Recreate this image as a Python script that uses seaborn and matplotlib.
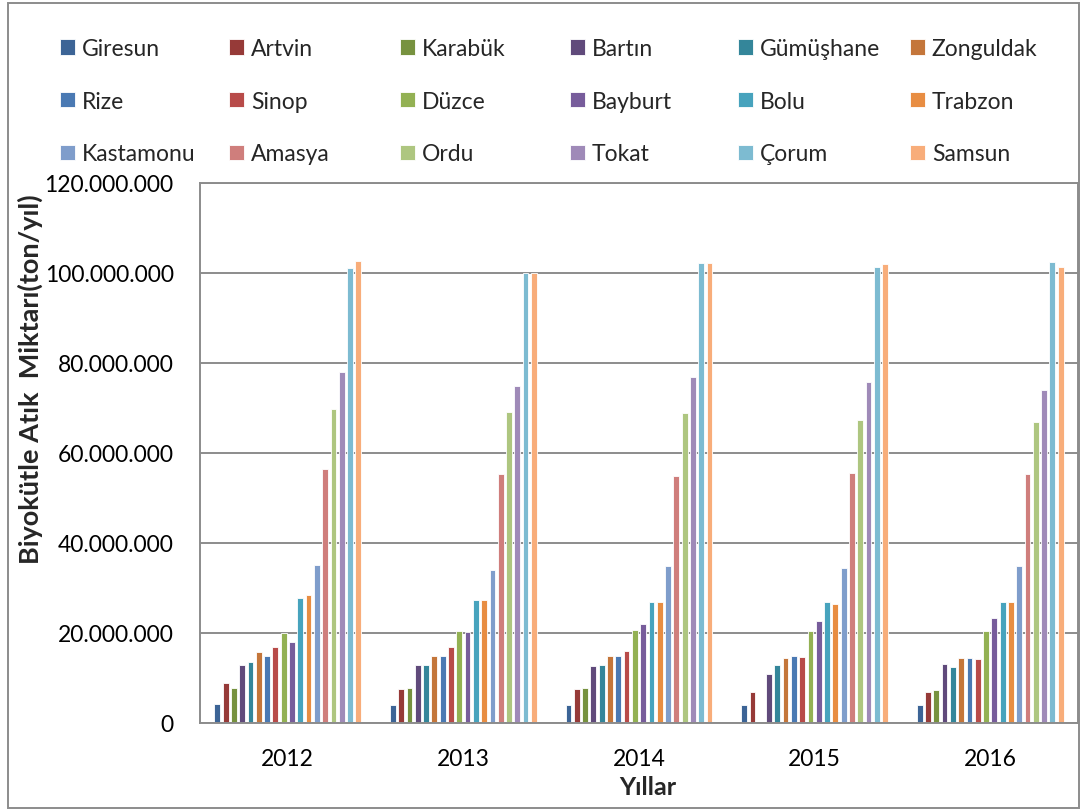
import matplotlib
matplotlib.use("Agg")
import matplotlib.pyplot as plt
from matplotlib.patches import Rectangle
from matplotlib.ticker import FuncFormatter, MultipleLocator
import pandas as pd
import seaborn as sns

# Years on the x axis
years = ["2012", "2013", "2014", "2015", "2016"]

# Provinces (series), in legend / bar order
provinces = [
    "Giresun", "Artvin", "Karabük", "Bartın", "Gümüşhane", "Zonguldak",
    "Rize", "Sinop", "Düzce", "Bayburt", "Bolu", "Trabzon",
    "Kastamonu", "Amasya", "Ordu", "Tokat", "Çorum", "Samsun",
]

# Biomass waste amounts (million ton/year), one list per year, province order as above
v2012 = [4.2, 8.9, 7.7, 12.9, 13.6, 15.8, 14.9, 16.9, 20.1, 17.9, 27.7, 28.5,
         35.2, 56.5, 69.8, 78.1, 101.1, 102.6]
v2013 = [4.0, 7.6, 7.8, 12.9, 13.0, 15.0, 15.0, 16.8, 20.5, 20.2, 27.3, 27.3,
         34.0, 55.3, 69.1, 74.9, 100.0, 99.9]
v2014 = [3.9, 7.6, 7.7, 12.7, 13.0, 14.8, 14.9, 15.9, 20.7, 21.9, 26.8, 26.8,
         35.0, 54.8, 68.9, 76.8, 102.2, 102.3]
v2015 = [4.0, 6.9, 0.0, 11.0, 12.9, 14.4, 14.8, 14.6, 20.4, 22.6, 26.8, 26.4,
         34.5, 55.6, 67.3, 75.8, 101.3, 101.9]
v2016 = [3.9, 6.9, 7.4, 13.2, 12.4, 14.4, 14.4, 14.2, 20.4, 23.3, 26.9, 26.9,
         35.0, 55.3, 66.9, 74.0, 102.4, 101.4]

# Office-style palette: dark shades, base accents, light tints
colors = [
    "#3C6496", "#963A38", "#77923F", "#604A7B", "#34869A", "#C4763A",
    "#4A79B3", "#B84B49", "#93B153", "#775C9B", "#47A3BD", "#E88D42",
    "#7F9DCB", "#CF7E7C", "#AEC680", "#9F8AB8", "#7DBBD1", "#F8AD7A",
]

rows = []
for yr, vals in zip(years, [v2012, v2013, v2014, v2015, v2016]):
    for prov, v in zip(provinces, vals):
        rows.append({"Yıl": yr, "İl": prov, "Miktar": v * 1_000_000})
df = pd.DataFrame(rows)

sns.set_theme(style="white")
plt.rcParams["font.family"] = ["Lato", "DejaVu Sans"]

W, H = 1082, 812
fig = plt.figure(figsize=(W / 100, H / 100), dpi=100)
fig.patch.set_facecolor("white")
ax = fig.add_axes([200 / W, 1 - 724 / H, 878 / W, 540 / H])

sns.barplot(
    data=df, x="Yıl", y="Miktar", hue="İl", hue_order=provinces,
    order=years, palette=colors, width=0.85, gap=0.3, errorbar=None,
    edgecolor="white", linewidth=0.6, saturation=1, ax=ax,
)
handles, labels = ax.get_legend_handles_labels()
if ax.legend_ is not None:
    ax.legend_.remove()

grid_c = "#8c8c8c"
ax.set_ylim(0, 120_000_000)
ax.yaxis.set_major_locator(MultipleLocator(20_000_000))
ax.yaxis.set_major_formatter(FuncFormatter(lambda v, p: f"{int(round(v)):,}".replace(",", ".")))
ax.grid(axis="y", color=grid_c, linewidth=1.4)
ax.grid(axis="x", visible=False)
ax.set_axisbelow(True)
for s in ax.spines.values():
    s.set_color(grid_c)
    s.set_linewidth(1.4)
ax.tick_params(axis="both", length=0, labelsize=16.5, colors="black")
ax.tick_params(axis="y", pad=19)
ax.tick_params(axis="x", pad=18)

ax.set_xlabel("Yıllar", fontsize=18, fontweight="bold")
ax.xaxis.set_label_coords((648 - 200) / 878, (724 - 788) / 540)
ax.xaxis.label.set_verticalalignment("center")
ax.set_ylabel("Biyokütle Atık  Miktarı(ton/yıl)", fontsize=19.5, fontweight="bold")
ax.yaxis.set_label_coords((30 - 200) / 878, (724 - 379) / 540)
ax.yaxis.label.set_verticalalignment("center")

# Legend: six columns of three entries, laid out row-wise
col_x = [60, 229, 400, 570, 738, 910]
for j, x0 in enumerate(col_x):
    idx = [j, j + 6, j + 12]
    fig.legend(
        [handles[i] for i in idx], [labels[i] for i in idx],
        loc="upper left", bbox_to_anchor=(x0 / W, 1 - 39 / H),
        frameon=False, fontsize=16.5, handlelength=0.65, handleheight=0.65,
        handletextpad=0.3, labelspacing=1.38, borderaxespad=0, borderpad=0,
    )

# Outer chart frame
fig.patches.append(Rectangle((8 / W, 3 / H), (1079 - 8) / W, (808 - 3) / H,
                             transform=fig.transFigure, fill=False,
                             edgecolor=grid_c, linewidth=1.4))

fig.savefig("out.png", dpi=100)
